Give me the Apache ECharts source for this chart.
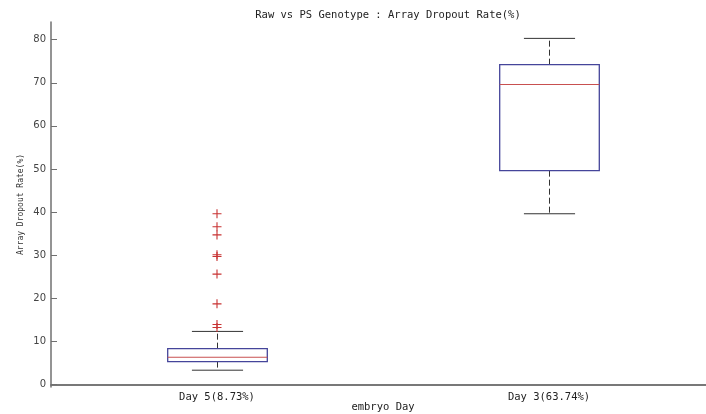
<!DOCTYPE html>
<html>
<head>
<meta charset="utf-8">
<script src="https://cdn.jsdelivr.net/npm/echarts@6/dist/echarts.min.js"></script>
<style>
  html, body { margin: 0; padding: 0; background: #fff; }
  #chart { width: 706px; height: 414px; }
</style>
</head>
<body>
<div id="chart"></div>
<script>
// Groups along the x axis
const categories = ['Day 5(8.73%)', 'Day 3(63.74%)'];
// Five-number summaries per group: [lower whisker, Q1, median, Q3, upper whisker]
const boxStats = [
  [3.3, 5.3, 6.3, 8.3, 12.3],
  [39.6, 49.6, 69.6, 74.2, 80.3]
];
// Outliers beyond the whiskers: [group index, value]
const outliers = [
  [0, 39.6], [0, 36.6], [0, 34.7], [0, 30.1], [0, 29.7],
  [0, 25.6], [0, 18.7], [0, 13.9], [0, 13.2]
];
// Y tick values
const yTicks = [0, 10, 20, 30, 40, 50, 60, 70, 80];

const FONT = 'DejaVu Sans Mono';
const axisGray = '#707070';

const chart = echarts.init(document.getElementById('chart'), null, { renderer: 'canvas' });

function renderBox(params, api) {
  const idx = api.value(0);
  const lo = api.value(1), q1 = api.value(2), med = api.value(3), q3 = api.value(4), hi = api.value(5);
  const band = api.size([1, 0])[0];
  const boxHalf = band * 0.15;
  const capHalf = band * 0.077;
  const pLo = api.coord([idx, lo]);
  const pQ1 = api.coord([idx, q1]);
  const pMed = api.coord([idx, med]);
  const pQ3 = api.coord([idx, q3]);
  const pHi = api.coord([idx, hi]);
  const x = Math.round(pMed[0]) + 0.5;
  const whisker = { stroke: '#333', lineWidth: 1, lineDash: [6, 3] };
  const cap = { stroke: '#333', lineWidth: 1 };
  return {
    type: 'group',
    children: [
      { type: 'line', shape: { x1: x, y1: pQ3[1], x2: x, y2: pHi[1] }, style: whisker },
      { type: 'line', shape: { x1: x, y1: pQ1[1], x2: x, y2: pLo[1] }, style: whisker },
      { type: 'line', shape: { x1: x - capHalf, y1: pHi[1], x2: x + capHalf, y2: pHi[1] }, style: cap },
      { type: 'line', shape: { x1: x - capHalf, y1: pLo[1], x2: x + capHalf, y2: pLo[1] }, style: cap },
      { type: 'rect', shape: { x: x - boxHalf, y: pQ3[1], width: boxHalf * 2, height: pQ1[1] - pQ3[1] },
        style: { fill: 'none', stroke: '#45459a', lineWidth: 1.3 } },
      { type: 'line', shape: { x1: x - boxHalf, y1: pMed[1], x2: x + boxHalf, y2: pMed[1] },
        style: { stroke: '#c85050', lineWidth: 1.2 } }
    ]
  };
}

const option = {
  backgroundColor: '#fff',
  animation: false,
  title: {
    text: 'Raw vs PS Genotype : Array Dropout Rate(%)',
    left: 383,
    textAlign: 'center',
    top: 5,
    textStyle: { fontFamily: FONT, fontSize: 10.5, fontWeight: 'normal', color: '#222' }
  },
  grid: {
    left: 51, top: 22, width: 664, height: 365,
    containLabel: false,
    outerBoundsMode: 'none'
  },
  xAxis: [
    {
      type: 'category',
      data: categories,
      boundaryGap: true,
      name: 'embryo Day',
      nameLocation: 'middle',
      nameGap: 15,
      nameMoveOverlap: false,
      nameTextStyle: { fontFamily: FONT, fontSize: 10.5, color: '#222' },
      axisLine: { lineStyle: { color: axisGray, width: 1.5 } },
      axisTick: { show: false },
      axisLabel: { fontFamily: FONT, fontSize: 10.5, color: '#222', margin: 5 },
      splitLine: { show: false }
    },
    {
      type: 'category',
      data: categories,
      position: 'top',
      axisLine: { lineStyle: { color: axisGray, width: 1.5 } },
      axisTick: { show: false },
      axisLabel: { show: false }
    }
  ],
  yAxis: [
    {
      type: 'value',
      min: -0.6,
      max: 84.1,
      interval: 10,
      name: 'Array Dropout Rate(%)',
      nameLocation: 'middle',
      nameGap: 26,
      nameMoveOverlap: false,
      nameRotate: 90,
      nameTextStyle: { fontFamily: FONT, fontSize: 8, color: '#333' },
      axisLine: { show: true, lineStyle: { color: axisGray, width: 1.5 } },
      axisTick: {
        show: true, inside: true, length: 6,
        lineStyle: { color: axisGray },
        customValues: yTicks
      },
      axisLabel: {
        fontFamily: 'DejaVu Sans', fontSize: 10, color: '#444', margin: 5,
        customValues: yTicks,
        formatter: v => String(v)
      },
      splitLine: { show: false }
    },
    {
      type: 'value',
      min: -0.6,
      max: 84.1,
      interval: 10,
      position: 'right',
      axisLine: { show: true, lineStyle: { color: axisGray, width: 1.5 } },
      axisTick: { show: true, inside: true, length: 6, lineStyle: { color: '#bbb' }, customValues: yTicks },
      axisLabel: { show: false },
      splitLine: { show: false }
    }
  ],
  series: [
    {
      type: 'custom',
      xAxisIndex: 0,
      yAxisIndex: 0,
      renderItem: renderBox,
      encode: { x: 0, y: [1, 2, 3, 4, 5] },
      data: boxStats.map((s, i) => [i].concat(s)),
      clip: false
    },
    {
      type: 'scatter',
      xAxisIndex: 0,
      yAxisIndex: 0,
      symbol: 'path://M0,5L10,5M5,0L5,10',
      symbolSize: 9,
      itemStyle: { color: 'none', borderColor: '#c83232', borderWidth: 1.1, opacity: 1 },
      data: outliers
    }
  ]
};

chart.setOption(option);
</script>
</body>
</html>
